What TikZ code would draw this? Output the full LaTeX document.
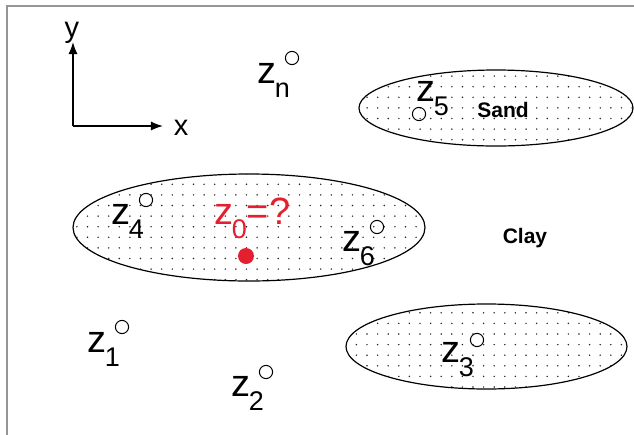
\documentclass[tikz,border=0pt]{standalone}
\usepackage{fontspec}
\setmainfont{Liberation Sans}
\usetikzlibrary{arrows.meta}
\definecolor{framegray}{RGB}{150,150,150}
\definecolor{zred}{RGB}{228,32,48}
\newcommand\zsub[1]{z\kern-0.8pt\raisebox{-7pt}{\fontsize{13.5}{13.5}\selectfont #1}}
\tikzset{
  wellpt/.style={circle,draw=black,line width=0.5pt,minimum size=6.6pt,inner sep=0pt},
  zlabel/.style={anchor=base west,inner sep=0pt,font=\fontsize{19}{19}\selectfont},
  soil/.style={font=\bfseries\fontsize{10.5}{10.5}\selectfont,inner sep=0pt},
  axislbl/.style={font=\fontsize{14.5}{14.5}\selectfont,inner sep=0pt},
  lensline/.style={draw=black,line width=0.6pt},
  axis/.style={line width=0.8pt,-{Latex[length=6pt,width=4.6pt]}}
}
\newcommand\dotgrid[6]{% x0, x1, xend, y0, y1, yend
  \foreach \gx in {#1,#2,...,#3}{\foreach \gy in {#4,#5,...,#6}{\fill[black!85] (\gx,\gy) circle[radius=0.42pt];}}}
\begin{document}
\begin{tikzpicture}[x=0.5pt,y=-0.5pt]
\useasboundingbox (0,0) rectangle (634,435);
% frame
\draw[framegray,line width=1.1pt] (7,435) -- (7,6) -- (634,6);

% lenses with dots
\begin{scope}
  \clip (496,108) ellipse [x radius=68.5pt, y radius=19pt];
  \dotgrid{356.5}{367.1}{633}{65.5}{76.1}{146}
\end{scope}
\begin{scope}
  \clip (249,227.5) ellipse [x radius=88pt, y radius=26.75pt];
  \dotgrid{76.9}{87.5}{425}{173.7}{184.3}{282}
\end{scope}
\begin{scope}
  \clip (486.5,346.5) ellipse [x radius=70.25pt, y radius=21.25pt];
  \dotgrid{345.8}{356.4}{627}{302.2}{312.8}{390}
\end{scope}
\draw[lensline] (496,108) ellipse [x radius=68.5pt, y radius=19pt];
\draw[lensline] (249,227.5) ellipse [x radius=88pt, y radius=26.75pt];
\draw[lensline] (486.5,346.5) ellipse [x radius=70.25pt, y radius=21.25pt];

% axes
\coordinate (O) at (73,126);
\coordinate (Ytip) at (73,42);
\coordinate (Xtip) at (163,126);
\draw[axis] (O) -- (Ytip);
\draw[axis] (O) -- (Xtip);
\node[axislbl] (ylbl) at (72,33) {y};
\node[axislbl] (xlbl) at (181,128) {x};

% wells
\node[wellpt] (wn) at (292,58) {};
\node[zlabel] (ln) at (257,83) {\zsub{n}};
\node[wellpt] (w5) at (419,114) {};
\node[zlabel] (l5) at (416,101) {\zsub{5}};
\node[wellpt] (w4) at (146,200) {};
\node[zlabel] (l4) at (111,224) {\zsub{4}};
\node[wellpt] (w6) at (377,227) {};
\node[zlabel] (l6) at (342,251) {\zsub{6}};
\node[wellpt] (w1) at (122,327) {};
\node[zlabel] (l1) at (87,352) {\zsub{1}};
\node[wellpt] (w2) at (266,372) {};
\node[zlabel] (l2) at (231,396) {\zsub{2}};
\node[wellpt] (w3) at (477,340) {};
\node[zlabel] (l3) at (441,362) {\zsub{3}};

% estimation point
\node[circle,fill=zred,minimum size=8pt,inner sep=0pt] (w0) at (246,256) {};
\node[zlabel,text=zred] (l0) at (214,224) {\zsub{0}=?};

% soil labels
\node[soil] (sand) at (503,110) {Sand};
\node[soil] (clay) at (525,238) {Clay};
\end{tikzpicture}
\end{document}
